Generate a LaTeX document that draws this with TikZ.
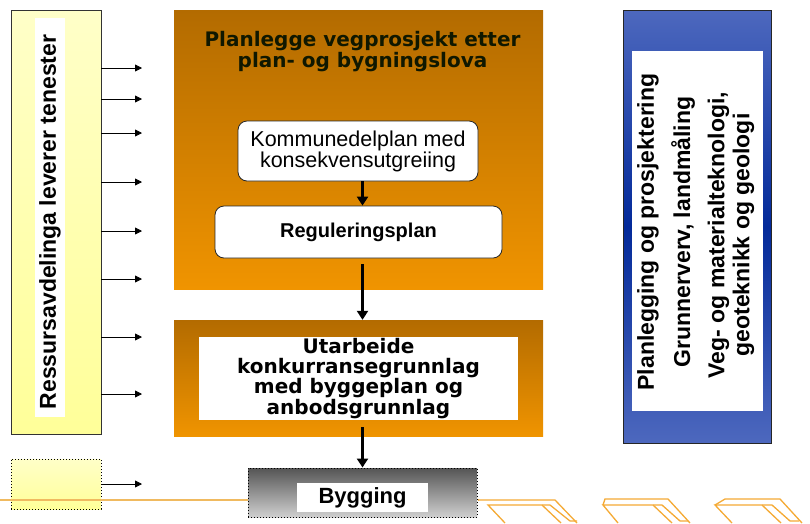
\documentclass[tikz,border=0pt]{standalone}
\usepackage{fontspec}
\setmainfont{Liberation Sans}
\newfontfamily\verd{DejaVu Sans}
\usetikzlibrary{arrows.meta}
\definecolor{ytop}{HTML}{FFFFC8}
\definecolor{ybot}{HTML}{FFFF99}
\definecolor{otop}{HTML}{B36B00}
\definecolor{obot}{HTML}{F09400}
\definecolor{blight}{HTML}{4D68BE}
\definecolor{bdark}{HTML}{032A9A}
\definecolor{gtop}{HTML}{555555}
\definecolor{gbot}{HTML}{CFCFCF}
\definecolor{oline}{HTML}{F0BA60}
\definecolor{chev}{HTML}{F5AA35}
\definecolor{ttl}{HTML}{101800}
\pgfdeclareverticalshading{bluesh}{100bp}{color(0bp)=(blight); color(25bp)=(blight); color(50bp)=(bdark); color(75bp)=(blight); color(100bp)=(blight)}
\tikzset{
  ybox/.style={draw=black!80, line width=0.8pt, top color=ytop, bottom color=ybot, inner sep=0pt},
  obox/.style={top color=otop, bottom color=obot, inner sep=0pt},
  wbox/.style={fill=white, inner sep=0pt},
  rbox/.style={fill=white, draw=black!85, line width=0.8pt, rounded corners=9pt, inner sep=0pt},
  thinarr/.style={line width=0.8pt, -{Triangle[length=7pt,width=7pt]}},
  bigarr/.style={line width=2.6pt, -{Triangle[length=9pt,width=11pt]}},
  dotbox/.style={draw=black, line width=1pt, dotted, inner sep=0pt},
  vtxt/.style={rotate=90, font=\bfseries\fontsize{23}{25}\selectfont, align=center, inner sep=0pt},
  chevline/.style={draw=chev, line width=1.3pt, line join=miter},
}
\begin{document}
\begin{tikzpicture}[x=1pt,y=-1pt]
\useasboundingbox[fill=white] (0,0) rectangle (810,523);

% left resource box
\node[ybox, minimum width=90pt, minimum height=424pt] (res) at (56,222) {};
\node[wbox, minimum width=30pt, minimum height=399pt] (resw) at (50,217.5) {};
\node[vtxt] (rest) at (50,222) {Ressursavdelinga leverer tenester};
\foreach \yy/\nm in {68/a1,99/a2,133/a3,182/a4,231/a5,279/a6,337/a7,394/a8} {
  \coordinate (\nm) at (142,\yy);
  \draw[thinarr] (res.east |- \nm) -- (\nm);
}

% small yellow box bottom left
\node[dotbox, top color=ytop, bottom color=ybot, minimum width=90pt, minimum height=50pt] (ysm) at (56,484) {};
\coordinate (ysmend) at (142,484);
\draw[thinarr] (ysm.east) -- (ysmend);

% orange line
\coordinate (lineL) at (0,500);
\coordinate (lineR) at (478,500);

% upper orange box
\node[obox, minimum width=369pt, minimum height=279pt] (plan) at (358.5,149.5) {};
\node[font=\verd\bfseries\fontsize{20}{21}\selectfont, text=ttl, align=center, inner sep=0pt] (plant) at (362.5,52) {Planlegge vegprosjekt etter\\plan- og bygningslova};
\node[rbox, minimum width=240pt, minimum height=60pt, font=\fontsize{21.5}{21}\selectfont, align=center] (komm) at (358,151) {Kommunedelplan med\\konsekvensutgreiing};
\node[rbox, minimum width=287pt, minimum height=52pt, font=\bfseries\fontsize{20}{21}\selectfont] (reg) at (358.5,232) {Reguleringsplan};

% lower orange box
\node[obox, minimum width=369pt, minimum height=116pt] (utb) at (358.5,378) {};
\node[wbox, minimum width=319pt, minimum height=83pt, font=\verd\bfseries\fontsize{20}{19.5}\selectfont, align=center] (utbw) at (358.5,378.5) {Utarbeide\\konkurransegrunnlag\\med byggeplan og\\anbodsgrunnlag};

% bygging
\draw[oline, line width=1.5pt] (lineL) -- (248,500);
\node[dotbox, top color=gtop, bottom color=gbot, minimum width=229pt, minimum height=49pt] (byg) at (362.5,492.5) {};
\node[wbox, minimum width=131pt, minimum height=29pt, font=\bfseries\fontsize{22}{22}\selectfont] (bygw) at (362.5,497.5) {Bygging};
\draw[oline, line width=1.5pt] (byg.east |- lineR) -- (lineR);

% central arrows
\draw[bigarr] (komm.south -| byg.north) -- (reg.north -| byg.north);
\draw[bigarr] ([yshift=-6pt]reg.south -| byg.north) -- (utb.north -| byg.north);
\draw[bigarr] ([yshift=-7pt]utbw.south -| byg.north) -- (byg.north);

% right blue box
\node[draw=black!85, line width=0.8pt, inner sep=0pt, minimum width=148pt, minimum height=433pt,
  shading=bluesh] (blue) at (697,226.5) {};
\node[wbox, minimum width=131pt, minimum height=360pt] (bluew) at (697.5,231) {};
\node[vtxt] (b1) at (648,232) {Planlegging og prosjektering};
\node[vtxt] (b2) at (683,232) {Grunnerverv, landmåling};
\node[vtxt] (b3) at (731,235) {Veg- og materialteknologi,\\geoteknikk og geologi};

% chevrons
\draw[chevline] (lineR) -- (555,500) -- (577,523);
\draw[chevline] (505,523) -- (488,505) -- (550,505) -- (570,521) -- (577,521);
\draw[chevline] (542,505) -- (561,523);

\draw[chevline] (603,505) -- (605,499) -- (668,499) -- (690,523);
\draw[chevline] (618,523) -- (603,505) -- (662,505) -- (680,521) -- (688,521);
\draw[chevline] (653,505) -- (672,523);

\draw[chevline] (715,505) -- (725,499) -- (780,499) -- (802,523);
\draw[chevline] (732,523) -- (715,505) -- (772,505) -- (790,521) -- (799,521);
\draw[chevline] (762,505) -- (781,523);
\end{tikzpicture}
\end{document}
